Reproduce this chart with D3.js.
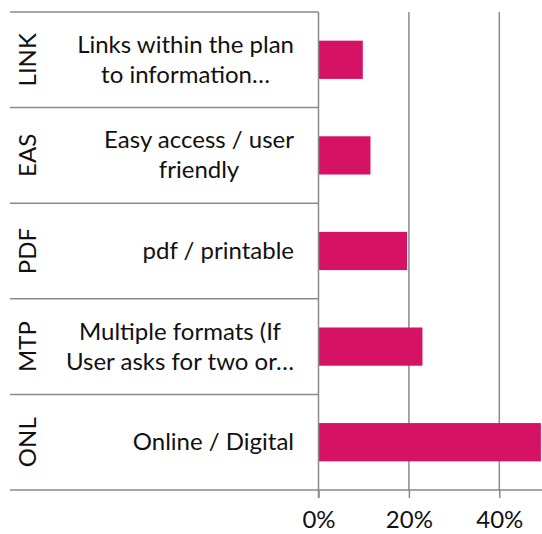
<!DOCTYPE html>
<html>
<head>
<meta charset="utf-8">
<script src="https://cdn.jsdelivr.net/npm/d3@7"></script>
<style>
  body { margin: 0; background: #fff; }
  text { font-family: Lato, "Open Sans", sans-serif; fill: #111; }
</style>
</head>
<body>
<div id="chart"></div>
<script>
var svgWidth = 542;
var svgHeight = 534;

// data
var codes = ["LINK", "EAS", "PDF", "MTP", "ONL"];
var labels = [
  ["Links within the plan", "to information…"],
  ["Easy access / user", "friendly"],
  ["pdf / printable"],
  ["Multiple formats (If", "User asks for two or…"],
  ["Online / Digital"]
];
var values = [0.098, 0.115, 0.196, 0.23, 0.492];
var xTicks = [0, 0.2, 0.4];

var axisX = 318.5;
var plotTop = 12;
var plotBottom = 490;
var lineColor = "#8a8a8a";
var fontFamily = "Lato, 'Open Sans', sans-serif";

var svg = d3.select("#chart")
  .append("svg")
  .attr("width", svgWidth)
  .attr("height", svgHeight);

var x = d3.scaleLinear().domain([0, 0.4]).range([axisX, 499.3]);
var y = d3.scaleBand().domain(codes).range([plotTop, plotBottom]).padding(0);

// gridlines
svg.append("g")
  .selectAll("line")
  .data(xTicks.slice(1))
  .enter()
  .append("line")
  .attr("x1", d => x(d))
  .attr("x2", d => x(d))
  .attr("y1", plotTop)
  .attr("y2", plotBottom)
  .attr("stroke", lineColor)
  .attr("stroke-width", 1.5);

// bars
var barH = y.bandwidth() / 2.5;
svg.append("g")
  .selectAll("rect")
  .data(values)
  .enter()
  .append("rect")
  .attr("x", x(0))
  .attr("y", (d, i) => y(codes[i]) + (y.bandwidth() - barH) / 2)
  .attr("width", d => x(d) - x(0))
  .attr("height", barH)
  .attr("fill", "#d61264");

// category separators (band boundaries)
var bounds = codes.map(c => y(c)).concat([plotBottom]);
svg.append("g")
  .selectAll("line")
  .data(bounds)
  .enter()
  .append("line")
  .attr("x1", 10)
  .attr("x2", axisX)
  .attr("y1", d => d)
  .attr("y2", d => d)
  .attr("stroke", lineColor)
  .attr("stroke-width", 1.5);

// x axis
var xAxis = svg.append("g")
  .attr("transform", `translate(0, ${plotBottom})`)
  .call(d3.axisBottom(x).tickValues(xTicks).tickFormat(d3.format(".0%")).tickSize(8).tickSizeOuter(0));
xAxis.select(".domain").remove();
xAxis.selectAll(".tick line").attr("stroke", lineColor).attr("stroke-width", 1.5);
xAxis.selectAll(".tick text")
  .attr("y", 38)
  .attr("dy", 0)
  .style("font-size", "24px")
  .style("font-family", fontFamily)
  .attr("fill", "#111");

svg.append("line")
  .attr("x1", axisX)
  .attr("x2", svgWidth)
  .attr("y1", plotBottom)
  .attr("y2", plotBottom)
  .attr("stroke", lineColor)
  .attr("stroke-width", 1.5);

// y axis line
svg.append("line")
  .attr("x1", axisX)
  .attr("x2", axisX)
  .attr("y1", plotTop)
  .attr("y2", plotBottom + 8)
  .attr("stroke", lineColor)
  .attr("stroke-width", 1.5);

// outer labels (codes), rotated
svg.append("g")
  .selectAll("text")
  .data(codes)
  .enter()
  .append("text")
  .attr("transform", d => `translate(36, ${y(d) + y.bandwidth() / 2}) rotate(-90)`)
  .attr("text-anchor", "middle")
  .style("font-size", "24px")
  .text(d => d);

// inner labels, lines centred on each other, block ending near the axis
var labelRight = 294;
var lineH = 30;
labels.forEach(function(lines, i) {
  var cy = y(codes[i]) + y.bandwidth() / 2;
  var g = svg.append("g");
  var texts = g.selectAll("text")
    .data(lines)
    .enter()
    .append("text")
    .attr("y", (d, j) => cy + 8 + (j - (lines.length - 1) / 2) * lineH)
    .attr("text-anchor", "middle")
    .style("font-size", "24px")
    .text(d => d);
  var maxW = d3.max(texts.nodes(), n => n.getComputedTextLength());
  texts.attr("x", labelRight - maxW / 2);
});
</script>
</body>
</html>
